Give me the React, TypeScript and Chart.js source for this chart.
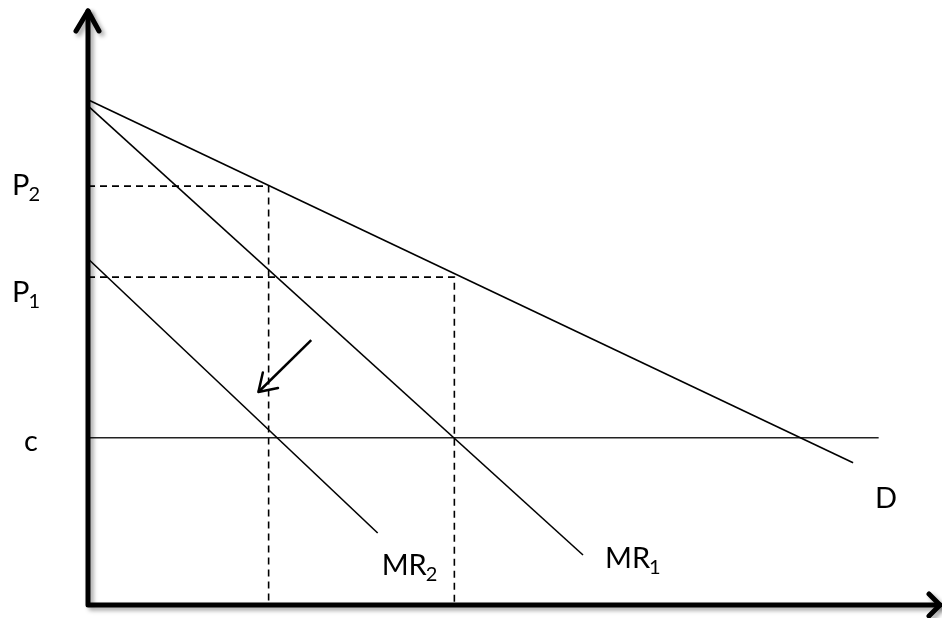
import React, { useEffect, useRef } from "react";
import { Chart, registerables } from "chart.js";

Chart.register(...registerables);

// Demand curve D (quantity, price) end points
const demandQ = [0, 89.8];
const demandP = [84.9, 23.9];
// Marginal revenue MR1
const mr1Q = [0, 58.1];
const mr1P = [83.9, 8.4];
// Marginal revenue MR2 (after the shift)
const mr2Q = [0, 34.0];
const mr2P = [58.2, 12.1];
// Marginal cost c
const costLevel = 28.1;
const costQ = [0, 92.8];
// Equilibrium prices and quantities: [P2, P1], [Q2, Q1]
const priceLevels = [70.4, 55.1];
const quantityLevels = [21.2, 43.0];
// Shift arrow (from, to)
const shiftQ = [26.2, 20.0];
const shiftP = [44.5, 35.8];
// Axis labels
const priceLabels = ["P", "P", "c"];
const priceSubs = ["2", "1", ""];
const curveLabels = ["D", "MR", "MR"];
const curveSubs = ["", "2", "1"];

const pts = (qs: number[], ps: number[]) => qs.map((q, i) => ({ x: q, y: ps[i] }));

const FONT = "Lato, 'Open Sans', sans-serif";

function drawLabel(ctx: CanvasRenderingContext2D, text: string, sub: string, x: number, baseline: number) {
  ctx.font = `29px ${FONT}`;
  ctx.fillStyle = "#000";
  ctx.textBaseline = "alphabetic";
  ctx.textAlign = "left";
  ctx.fillText(text, x, baseline);
  if (sub) {
    const w = ctx.measureText(text).width;
    ctx.font = `20px ${FONT}`;
    ctx.fillText(sub, x + w - 1, baseline + 6);
  }
}

const overlay = {
  id: "econOverlay",
  afterDraw(chart: any) {
    const ctx: CanvasRenderingContext2D = chart.ctx;
    const xs = chart.scales.x;
    const ys = chart.scales.y;
    const { left, right, top, bottom } = chart.chartArea;

    // axes with arrowheads
    ctx.save();
    ctx.strokeStyle = "#000";
    ctx.lineWidth = 5;
    ctx.lineCap = "round";
    ctx.lineJoin = "round";
    ctx.shadowColor = "rgba(0,0,0,0.35)";
    ctx.shadowBlur = 4;
    ctx.shadowOffsetX = 3;
    ctx.shadowOffsetY = 3;
    ctx.beginPath();
    ctx.moveTo(left, top + 1);
    ctx.lineTo(left, bottom);
    ctx.lineTo(right, bottom);
    ctx.stroke();
    ctx.beginPath();
    ctx.moveTo(left - 12, top + 21);
    ctx.lineTo(left, top + 1);
    ctx.lineTo(left + 11, top + 21);
    ctx.stroke();
    ctx.beginPath();
    ctx.moveTo(right - 11, bottom - 11);
    ctx.lineTo(right, bottom);
    ctx.lineTo(right - 11, bottom + 11);
    ctx.stroke();
    ctx.restore();

    // shift arrowhead
    ctx.save();
    const x0 = xs.getPixelForValue(shiftQ[0]);
    const y0 = ys.getPixelForValue(shiftP[0]);
    const x1 = xs.getPixelForValue(shiftQ[1]);
    const y1 = ys.getPixelForValue(shiftP[1]);
    const ang = Math.atan2(y1 - y0, x1 - x0);
    const L = 20;
    const spread = Math.PI / 5.5;
    ctx.strokeStyle = "#000";
    ctx.lineWidth = 2.5;
    ctx.lineCap = "round";
    ctx.lineJoin = "round";
    ctx.beginPath();
    ctx.moveTo(x1 - L * Math.cos(ang - spread), y1 - L * Math.sin(ang - spread));
    ctx.lineTo(x1, y1);
    ctx.lineTo(x1 - L * Math.cos(ang + spread), y1 - L * Math.sin(ang + spread));
    ctx.stroke();
    ctx.restore();

    // price-axis labels
    ctx.save();
    const levels = [priceLevels[0], priceLevels[1], costLevel];
    const dy = [9, 25, 13];
    const lx = [12, 12, 24];
    levels.forEach((v, i) => {
      drawLabel(ctx, priceLabels[i], priceSubs[i], lx[i], ys.getPixelForValue(v) + dy[i]);
    });
    // curve labels near curve ends
    const ends = [
      [demandQ[1], demandP[1], 22, 45],
      [mr2Q[1], mr2P[1], 4, 42],
      [mr1Q[1], mr1P[1], 22, 13],
    ];
    ends.forEach((e, i) => {
      drawLabel(ctx, curveLabels[i], curveSubs[i], xs.getPixelForValue(e[0]) + e[2], ys.getPixelForValue(e[1]) + e[3]);
    });
    ctx.restore();
  },
};

export default function App() {
  const ref = useRef<HTMLCanvasElement>(null);
  useEffect(() => {
    if (!ref.current) return;
    const solid = { borderColor: "#000", borderWidth: 1.6, pointRadius: 0, showLine: true, clip: false as any, fill: false };
    const dashed = { ...solid, borderDash: [7, 5], borderWidth: 1.6 };
    const chart = new Chart(ref.current, {
      type: "scatter",
      data: {
        datasets: [
          { ...solid, label: "D", data: pts(demandQ, demandP) },
          { ...solid, label: "MR1", data: pts(mr1Q, mr1P) },
          { ...solid, label: "MR2", data: pts(mr2Q, mr2P) },
          { ...solid, label: "c", borderColor: "#222", data: pts(costQ, [costLevel, costLevel]) },
          {
            ...dashed,
            label: "P2",
            data: [
              { x: 0, y: priceLevels[0] },
              { x: quantityLevels[0], y: priceLevels[0] },
              { x: quantityLevels[0], y: 0 },
            ],
          },
          {
            ...dashed,
            label: "P1",
            data: [
              { x: 0, y: priceLevels[1] },
              { x: quantityLevels[1], y: priceLevels[1] },
              { x: quantityLevels[1], y: 0 },
            ],
          },
          { ...solid, label: "shift", borderWidth: 2.5, data: pts(shiftQ, shiftP) },
        ] as any,
      },
      options: {
        responsive: false,
        animation: false,
        maintainAspectRatio: false,
        layout: { padding: { left: 88, right: 2, top: 10, bottom: 13 } },
        scales: {
          x: { type: "linear", min: 0, max: 100, display: false },
          y: { type: "linear", min: 0, max: 100, display: false },
        },
        plugins: { legend: { display: false }, tooltip: { enabled: false } },
        events: [],
      },
      plugins: [overlay],
    });
    return () => chart.destroy();
  }, []);
  return (
    <div style={{ position: "fixed", left: 0, top: 0, width: 942, height: 618, background: "#fff" }}>
      <canvas ref={ref} width={942} height={618} style={{ display: "block" }} />
    </div>
  );
}
